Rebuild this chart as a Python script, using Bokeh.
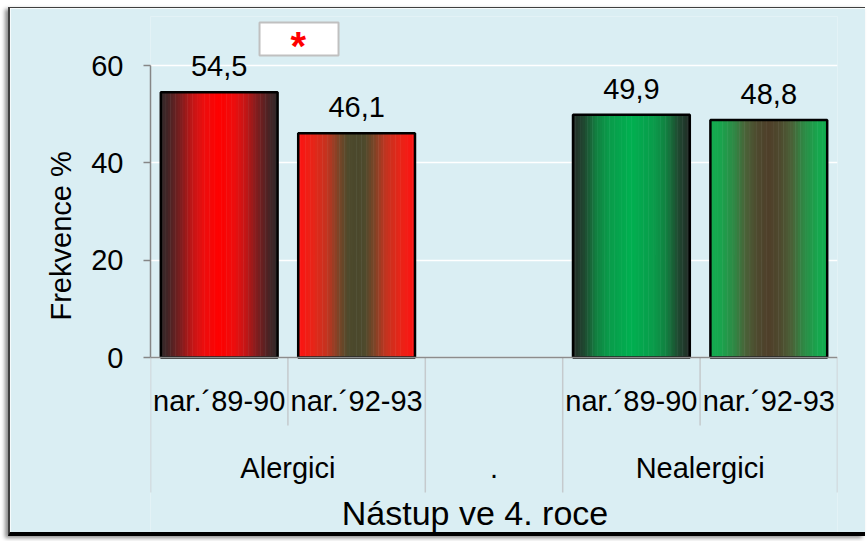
import math
from bokeh.plotting import figure
from bokeh.models import ColumnDataSource, FactorRange, Range1d, FixedTicker, Span, Title
from bokeh.transform import dodge
from bokeh.core.properties import value
from bokeh.embed import file_html
from bokeh.resources import INLINE

# ---------------- data ----------------
groups = ["Alergici", "Alergici", ".", "Nealergici", "Nealergici"]
cohorts = ["nar.´89-90", "nar.´92-93", " ", "nar.´89-90", "nar.´92-93"]
bar_groups = ["Alergici", "Alergici", "Nealergici", "Nealergici"]
bar_cohorts = ["nar.´89-90", "nar.´92-93", "nar.´89-90", "nar.´92-93"]
values = [54.5, 46.1, 49.9, 48.8]
y_ticks = [0, 20, 40, 60]
y_label = "Frekvence %"
x_title = "Nástup ve 4. roce"
marker_text = "*"

# ---------------- style / layout ----------------
FONT = value("Liberation Sans")
BG = "#DAEEF3"
PXU = 292 / 60.0          # pixels per y unit
BAR_W = 0.85
N_STRIPS = 48
# gradient stops: (distance from bar centre 0..1, colour)
GRADIENTS = [
    [(0.0, "#ff0000"), (0.25, "#ee0d0d"), (0.45, "#c41616"), (0.65, "#801d1e"), (0.85, "#4a2324"), (1.0, "#2e2a2a")],
    [(0.0, "#4a482c"), (0.15, "#4f4a2c"), (0.3, "#7a4527"), (0.5, "#c23420"), (0.75, "#e82518"), (1.0, "#ff1111")],
    [(0.0, "#00b050"), (0.4, "#0a9a4a"), (0.6, "#128040"), (0.8, "#1f4a31"), (1.0, "#222a26")],
    [(0.0, "#4f3f29"), (0.2, "#4e4a2e"), (0.4, "#4a6338"), (0.6, "#2e8a45"), (0.85, "#16a74e"), (1.0, "#13ad4f")],
]


def hex2rgb(h):
    h = h.lstrip("#")
    return tuple(int(h[i:i + 2], 16) for i in (0, 2, 4))


def grad_color(stops, d):
    for (d0, c0), (d1, c1) in zip(stops[:-1], stops[1:]):
        if d <= d1:
            t = 0 if d1 == d0 else (d - d0) / (d1 - d0)
            a, b = hex2rgb(c0), hex2rgb(c1)
            return "#%02x%02x%02x" % tuple(int(round(a[i] + (b[i] - a[i]) * t)) for i in range(3))
    return stops[-1][1]


factors = list(zip(groups, cohorts))
bar_factors = list(zip(bar_groups, bar_cohorts))

CONTENT_W, CONTENT_H = 857, 529
FRAME_LEFT, FRAME_RIGHT = 140, 827
FRAME_TOP, AXIS_Y, FRAME_BOTTOM = 8, 349, 529
y_end = (AXIS_Y - FRAME_TOP) / PXU
y_start = -(FRAME_BOTTOM - AXIS_Y) / PXU


def below(px):
    """pixels below the category axis -> data units"""
    return -px / PXU


p = figure(width=CONTENT_W, height=CONTENT_H,
           x_range=FactorRange(factors=factors, factor_padding=0, subgroup_padding=0,
                               group_padding=0, range_padding=0),
           y_range=Range1d(y_start, y_end),
           x_axis_location=None, y_axis_location="left",
           output_backend="svg", toolbar_location=None,
           min_border_left=FRAME_LEFT, min_border_right=CONTENT_W - FRAME_RIGHT,
           min_border_top=FRAME_TOP, min_border_bottom=0)
p.styles = {"margin-left": "8px", "margin-top": "7px",
            "border-left": "2px solid #404040", "border-top": "1px solid #404040",
            "border-bottom": "4px solid #000000",
            "box-shadow": "-3px 2px 4px rgba(0,0,0,0.45)"}
p.background_fill_color = BG
p.border_fill_color = BG
p.outline_line_color = None

for g in p.grid:
    if g.dimension == 0:
        g.visible = False
    else:
        g.grid_line_color = "white"
        g.grid_line_width = 1.5

ax = p.yaxis[0]
ax.ticker = FixedTicker(ticks=y_ticks)
ax.bounds = (y_ticks[0], y_ticks[-1])
ax.major_label_text_font = "Liberation Sans"
ax.major_label_text_font_size = "29px"
ax.major_label_text_color = "#000000"
ax.axis_line_color = "#868686"
ax.axis_line_width = 1.5
ax.major_tick_line_color = "#868686"
ax.major_tick_line_width = 1.5
ax.major_tick_out = 7
ax.major_tick_in = 0
ax.minor_tick_out = 0
ax.minor_tick_in = 0
ax.major_label_standoff = 20

# y axis title as a left-side title; its start is placed beside the 0-60 axis
p.add_layout(Title(text=y_label, align="left", offset=217,
                   text_font="Liberation Sans", text_font_size="29px",
                   text_font_style="normal", text_color="#000000", standoff=23), "left")

# bars (gradient strips)
cols = dict(x=bar_factors, top=values,
            label=[("%.1f" % v).replace(".", ",") for v in values],
            label_y=[v + 26 / PXU for v in values])
for k in range(N_STRIPS):
    pos = (k + 0.5) / N_STRIPS
    d = abs(pos - 0.5) * 2
    cols["c%d" % k] = [grad_color(GRADIENTS[i], d) for i in range(len(values))]
src = ColumnDataSource(cols)
for k in range(N_STRIPS):
    off = -BAR_W / 2 + (k + 0.5) * BAR_W / N_STRIPS
    p.vbar(x=dodge("x", off, range=p.x_range), top="top", bottom=0,
           width=BAR_W / N_STRIPS * 1.2, source=src,
           fill_color="c%d" % k, line_color=None)
p.vbar(x="x", top="top", bottom=0, width=BAR_W, source=src,
       fill_color=None, line_color="black", line_width=2.5)

p.text(x="x", y="label_y", text="label", source=src, text_align="center",
       text_baseline="alphabetic", text_font=FONT, text_font_size="29px", text_color="#000000")

# category axis line
p.add_layout(Span(location=0, dimension="width", line_color="#8c8c8c", line_width=1.5))

# separators
long_sep = below(135)
short_sep = below(68)
sep_src = ColumnDataSource(dict(
    x=factors,
    y1=[long_sep, short_sep, long_sep, long_sep, short_sep]))
p.segment(x0=dodge("x", -0.5, range=p.x_range), y0=0,
          x1=dodge("x", -0.5, range=p.x_range), y1="y1",
          source=sep_src, line_color="#c5cacd", line_width=1.5)
p.segment(x0=dodge("x", 0.5, range=p.x_range), y0=0,
          x1=dodge("x", 0.5, range=p.x_range), y1=long_sep,
          source=ColumnDataSource(dict(x=[factors[-1]])), line_color="#c5cacd", line_width=1.5)

# sub-category labels
p.text(x=factors, y=[below(43)] * len(factors), text=cohorts, text_align="center",
       text_baseline="alphabetic", text_font=FONT, text_font_size="29px", text_color="#000000")

# group labels
grp_y = below(110)
p.text(x=dodge("x", 0.5, range=p.x_range), y="y", text="t",
       source=ColumnDataSource(dict(x=[factors[0], factors[3]], y=[grp_y, grp_y],
                                    t=[groups[0], groups[3]])),
       text_align="center", text_baseline="alphabetic", text_font=FONT,
       text_font_size="29px", text_color="#000000")
p.text(x=[factors[2]], y=[grp_y], text=[groups[2]], text_align="center",
       text_baseline="alphabetic", text_font=FONT, text_font_size="29px", text_color="#000000")

# axis title (below)
p.text(x=[factors[2]], y=[below(155)], text=[x_title], x_offset=-19, text_align="center",
       text_baseline="alphabetic", text_font=FONT, text_font_size="34px", text_color="#000000")

# significance marker box
p.rect(x=dodge("x", -0.419, range=p.x_range), y="y", width=79, height=33,
       width_units="screen", height_units="screen",
       source=ColumnDataSource(dict(x=[factors[1]], y=[(357 - 38.5) / PXU])),
       fill_color="white", line_color="#c0c0c0", line_width=2)
p.text(x=dodge("x", -0.425, range=p.x_range), y="y", text="t",
       source=ColumnDataSource(dict(x=[factors[1]], y=[(357 - 45) / PXU], t=[marker_text])),
       text_align="center", text_baseline="alphabetic", text_font=FONT,
       text_font_size="40px", text_font_style="bold", text_color="#ff0000")

open("out.html", "w").write(file_html(p, INLINE))
